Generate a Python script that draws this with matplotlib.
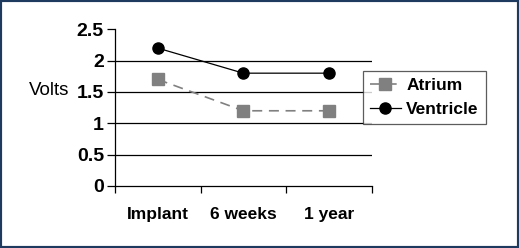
import matplotlib
matplotlib.use("Agg")
import matplotlib.pyplot as plt
from matplotlib.patches import Rectangle

# dados
categorias = ["Implant", "6 weeks", "1 year"]
atrium = [1.7, 1.2, 1.2]
ventricle = [2.2, 1.8, 1.8]
y_ticks = [0, 0.5, 1, 1.5, 2, 2.5]

plt.rcParams['font.family'] = ['Liberation Sans', 'DejaVu Sans']

fig = plt.figure(figsize=(5.19, 2.48), dpi=100)
fig.patches.append(Rectangle((0, 0), 1, 1, transform=fig.transFigure,
                             fill=False, edgecolor='#1f3a5f', linewidth=3))

ax = fig.add_axes([115 / 519, 1 - 186 / 248, 256.7 / 519, 156.7 / 248])
x = list(range(len(categorias)))

ax.plot(x, atrium, linestyle=(0, (6, 4)), color='#808080', linewidth=1.2,
        marker='s', markersize=8, markerfacecolor='#808080',
        markeredgecolor='#808080', label='Atrium')
ax.plot(x, ventricle, linestyle='-', color='black', linewidth=0.9,
        marker='o', markersize=8, markerfacecolor='black',
        markeredgecolor='black', label='Ventricle')

for v in y_ticks[1:-1]:
    ax.axhline(v, color='black', linewidth=0.9, zorder=0)

ax.set_xlim(-0.5, 2.5)
ax.set_ylim(0, 2.5)
ax.set_yticks(y_ticks)
ax.set_yticklabels(["0", "0.5", "1", "1.5", "2", "2.5"], fontweight='bold', fontsize=14)
ax.set_xticks([-0.5, 0.5, 1.5, 2.5])
ax.set_xticklabels([])
ax.tick_params(axis='y', direction='out', length=6, width=0.9, pad=2)
ax.tick_params(axis='x', direction='out', length=5, width=0.9)
for i, c in enumerate(categorias):
    ax.text(i, -0.46, c, ha='center', va='center', fontweight='bold', fontsize=12.5)

for s in ['top', 'right']:
    ax.spines[s].set_visible(False)
ax.spines['left'].set_linewidth(0.9)
ax.spines['bottom'].set_linewidth(0.9)

ax.text(-1.03, 1.53, "Volts", ha='right', va='center', fontsize=13.5)

leg = fig.legend(loc='upper left', bbox_to_anchor=(362.7 / 519, 1 - 71 / 248),
                 frameon=True, fancybox=False, edgecolor='#333333',
                 prop={'weight': 'bold', 'size': 12.5}, handlelength=1.8,
                 borderpad=0.4, labelspacing=0.5, handletextpad=0.3,
                 borderaxespad=0)
leg.get_frame().set_linewidth(0.9)

fig.savefig("out.png", dpi=100)
